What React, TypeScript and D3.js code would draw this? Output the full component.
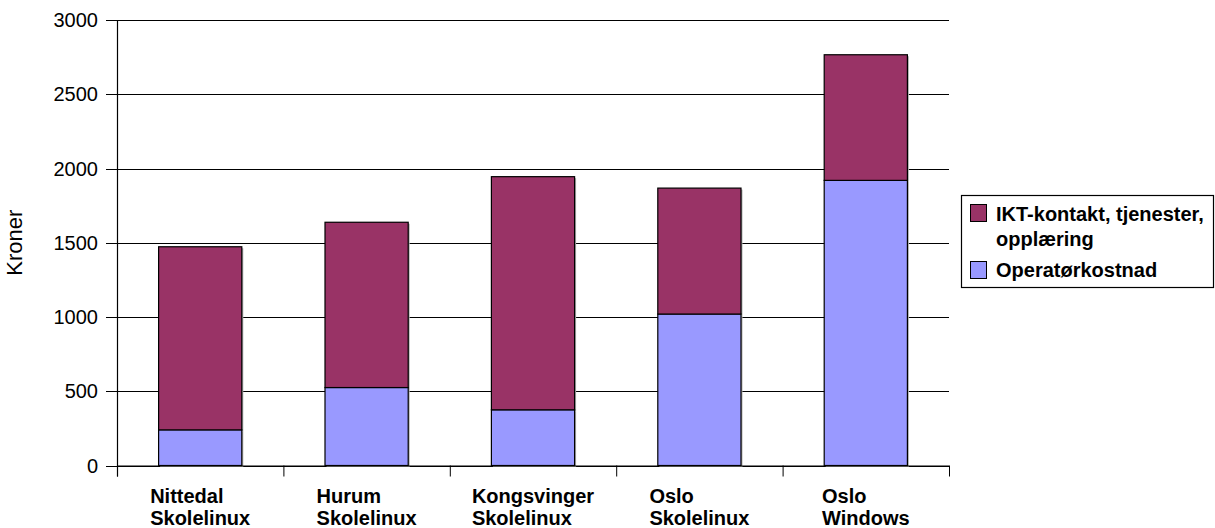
import React from "react";
import * as d3 from "d3";

const categories: string[][] = [
  ["Nittedal", "Skolelinux"],
  ["Hurum", "Skolelinux"],
  ["Kongsvinger", "Skolelinux"],
  ["Oslo", "Skolelinux"],
  ["Oslo", "Windows"],
];
const operatorCost = [240, 525, 375, 1020, 1920];
const ictContact = [1233, 1113, 1570, 848, 846];
const seriesNames = ["IKT-kontakt, tjenester,|opplæring", "Operatørkostnad"];
const seriesColors = ["#993366", "#9999FF"];
const yTicks = [0, 500, 1000, 1500, 2000, 2500, 3000];
const yLabel = "Kroner";

const W = 1215;
const H = 528;
const left = 117;
const right = 949;
const top = 20;
const bottom = 465.5;

function measure(text: string, font: string): number {
  if (typeof document === "undefined") return text.length * 10;
  const c = document.createElement("canvas");
  const ctx = c.getContext("2d");
  if (!ctx) return text.length * 10;
  ctx.font = font;
  return ctx.measureText(text).width;
}

export default function App() {
  const keys = categories.map((c) => c.join(" "));
  const x = d3.scaleBand<string>().domain(keys).range([left, right]).paddingInner(0).paddingOuter(0);
  const y = d3.scaleLinear().domain([0, 3000]).range([bottom, top]);
  const bw = x.bandwidth() / 2;

  const rows = keys.map((k, i) => ({ key: k, op: operatorCost[i], ict: ictContact[i] }));
  const stack = d3.stack<any>().keys(["op", "ict"])(rows as any);
  const colorFor: Record<string, string> = { op: seriesColors[1], ict: seriesColors[0] };

  const labelFont = "bold 20px 'Liberation Sans', Arial, sans-serif";
  const boundaries = keys.map((k) => x(k) as number).concat([right]);

  return (
    <div style={{ position: "absolute", left: 0, top: 0 }}>
      <svg width={W} height={H} style={{ display: "block", fontFamily: "'Liberation Sans', Arial, sans-serif" }}>
        <rect x={0} y={0} width={W} height={H} fill="#fff" />
        {/* gridlines */}
        {yTicks.map((t) => (
          <line key={"g" + t} x1={left} x2={right} y1={Math.round(y(t)) + 0.5} y2={Math.round(y(t)) + 0.5} stroke="#000" strokeWidth={1} />
        ))}
        {/* bar shadows */}
        {stack.map((layer) =>
          layer.map((d, i) => {
            const bx = (x(keys[i]) as number) + bw / 2;
            const y0 = y(d[0]);
            const y1 = y(d[1]);
            return <rect key={"s" + layer.key + i} x={bx + 1.5} y={y1 + 1.5} width={bw} height={y0 - y1} fill="#b0b0b0" />;
          })
        )}
        {/* bars */}
        {stack.map((layer) =>
          layer.map((d, i) => {
            const bx = (x(keys[i]) as number) + bw / 2;
            const y0 = y(d[0]);
            const y1 = y(d[1]);
            return (
              <rect key={"b" + layer.key + i} x={bx} y={y1} width={bw} height={y0 - y1} fill={colorFor[layer.key]} stroke="#000" strokeWidth={1.2} />
            );
          })
        )}
        {/* y axis */}
        <line x1={left + 0.5} x2={left + 0.5} y1={top} y2={bottom + 11} stroke="#000" strokeWidth={1.2} />
        {yTicks.map((t) => (
          <g key={"yt" + t}>
            <line x1={left - 11} x2={left} y1={Math.round(y(t)) + 0.5} y2={Math.round(y(t)) + 0.5} stroke="#000" strokeWidth={1} />
            <text x={98} y={y(t)} dy="0.36em" textAnchor="end" fontSize={20} fill="#000">
              {t}
            </text>
          </g>
        ))}
        {/* x axis */}
        <line x1={left} x2={right} y1={bottom + 0.5} y2={bottom + 0.5} stroke="#000" strokeWidth={1.2} />
        {boundaries.map((b, i) => (
          <line key={"xt" + i} x1={b + 0.5} x2={b + 0.5} y1={bottom} y2={bottom + 11} stroke="#000" strokeWidth={1} />
        ))}
        {categories.map((lines, i) => {
          const cx = (x(keys[i]) as number) + x.bandwidth() / 2;
          const maxW = Math.max(...lines.map((l) => measure(l, labelFont)));
          const lx = cx - maxW / 2;
          return (
            <text key={"xl" + i} x={lx} y={503} fontSize={20} fontWeight="bold" fill="#000">
              {lines.map((l, j) => (
                <tspan key={j} x={lx} y={503 + j * 22}>
                  {l}
                </tspan>
              ))}
            </text>
          );
        })}
        {/* y label */}
        <text transform={`translate(22,${(top + bottom) / 2}) rotate(-90)`} textAnchor="middle" fontSize={22} fill="#000">
          {yLabel}
        </text>
        {/* legend */}
        <rect x={961.5} y={195.5} width={252} height={92} fill="#fff" stroke="#000" strokeWidth={1.2} />
        <rect x={970.5} y={204.5} width={16} height={17} fill={seriesColors[0]} stroke="#000" strokeWidth={1} />
        <text fontSize={20} fontWeight="bold" fill="#000">
          {seriesNames[0].split("|").map((l, j) => (
            <tspan key={j} x={996} y={221 + j * 25}>
              {l}
            </tspan>
          ))}
        </text>
        <rect x={970.5} y={261.5} width={16} height={17} fill={seriesColors[1]} stroke="#000" strokeWidth={1} />
        <text x={996} y={277} fontSize={20} fontWeight="bold" fill="#000">
          {seriesNames[1]}
        </text>
      </svg>
    </div>
  );
}
